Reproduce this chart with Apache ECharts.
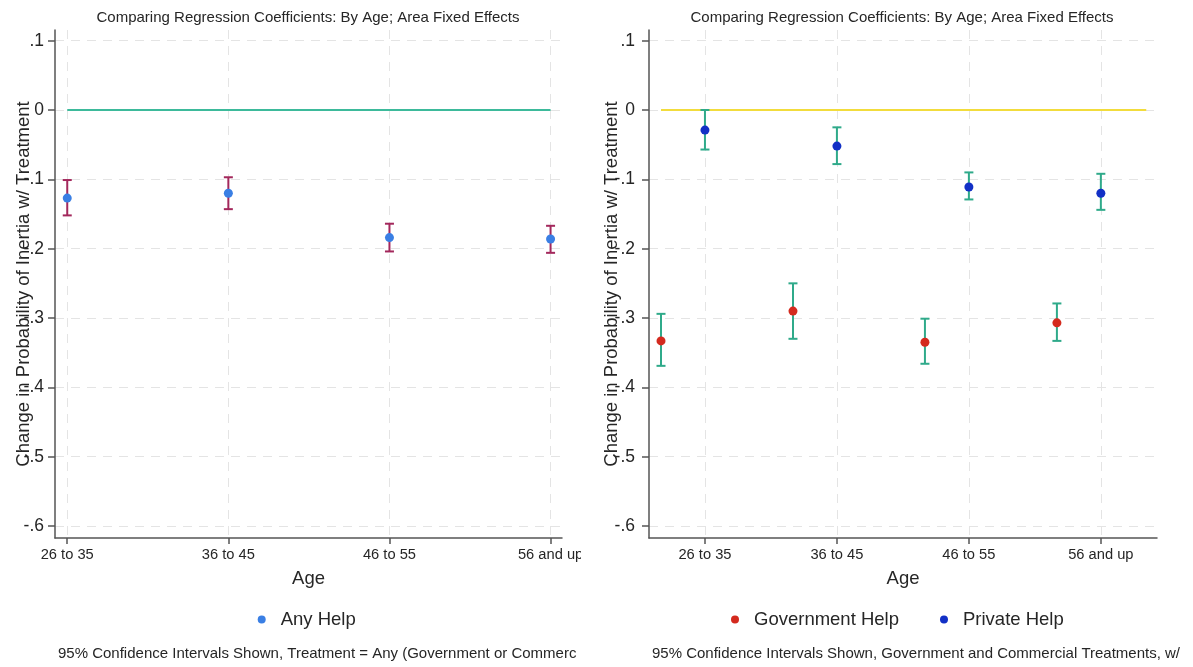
<!DOCTYPE html>
<html>
<head>
<meta charset="utf-8">
<script src="https://cdn.jsdelivr.net/npm/echarts@6/dist/echarts.min.js"></script>
<style>
html,body{margin:0;padding:0;background:#fff;}
#chart{width:1193px;height:667px;}
</style>
</head>
<body>
<div id="chart"></div>
<script>
// ---------- data ----------
const ageCategories = ['26 to 35', '36 to 45', '46 to 55', '56 and up'];
const categoryPositions = [1, 2, 3, 4];
const yTickValues = [-0.6, -0.5, -0.4, -0.3, -0.2, -0.1, 0, 0.1];
const yTickLabels = ['-.6', '-.5', '-.4', '-.3', '-.2', '-.1', '0', '.1'];

// Left panel: Any Help
const anyHelpX = [1, 2, 3, 4];
const anyHelpCoef = [-0.127, -0.120, -0.184, -0.186];
const anyHelpLow = [-0.152, -0.143, -0.204, -0.206];
const anyHelpHigh = [-0.101, -0.097, -0.164, -0.167];
const zeroLineLeftX = [1, 4];

// Right panel: Government Help and Private Help
const govX = [0.667, 1.667, 2.667, 3.667];
const govCoef = [-0.333, -0.290, -0.335, -0.307];
const govLow = [-0.369, -0.330, -0.366, -0.333];
const govHigh = [-0.294, -0.250, -0.301, -0.279];
const privX = [1, 2, 3, 4];
const privCoef = [-0.029, -0.052, -0.111, -0.120];
const privLow = [-0.057, -0.078, -0.129, -0.144];
const privHigh = [0.000, -0.025, -0.090, -0.092];
const zeroLineRightX = [0.667, 4.344];

const titleText = 'Comparing Regression Coefficients: By Age; Area Fixed Effects';
const yAxisTitle = 'Change in Probability of Inertia w/ Treatment';
const noteLeft = '95% Confidence Intervals Shown, Treatment = Any (Government or Commerc';
const noteRight = '95% Confidence Intervals Shown, Government and Commercial Treatments, w/';

// ---------- helpers ----------
const FONT = '"Liberation Sans", Arial, Helvetica, sans-serif';
const TXT = '#262626';

function zip3(x, a, b) { return x.map((v, i) => [v, a[i], b[i]]); }
function zip2(x, a) { return x.map((v, i) => [v, a[i]]); }

function errBarRenderer(color) {
  return function (params, api) {
    const x = api.value(0), lo = api.value(1), hi = api.value(2);
    const pLo = api.coord([x, lo]);
    const pHi = api.coord([x, hi]);
    const w = 4.5;
    const st = { stroke: color, lineWidth: 2 };
    return {
      type: 'group',
      children: [
        { type: 'line', shape: { x1: pLo[0], y1: pLo[1], x2: pHi[0], y2: pHi[1] }, style: st },
        { type: 'line', shape: { x1: pLo[0] - w, y1: pLo[1], x2: pLo[0] + w, y2: pLo[1] }, style: st },
        { type: 'line', shape: { x1: pHi[0] - w, y1: pHi[1], x2: pHi[0] + w, y2: pHi[1] }, style: st }
      ]
    };
  };
}

function yLabel(v) {
  let best = 0, bd = Infinity;
  yTickValues.forEach((t, i) => { const d = Math.abs(t - v); if (d < bd) { bd = d; best = i; } });
  return yTickLabels[best];
}
function xLabel(v) {
  const i = categoryPositions.findIndex(p => Math.abs(p - v) < 1e-6);
  return i >= 0 ? ageCategories[i] : '';
}

const gridLine = { show: true, lineStyle: { color: '#e4e4e4', width: 1, type: [9, 7] } };

function makeX(gridIndex, min, max) {
  return {
    type: 'value', gridIndex, min, max,
    name: 'Age', nameLocation: 'middle', nameGap: 31, nameMoveOverlap: false,
    nameTextStyle: { fontFamily: FONT, fontSize: 18.5, color: TXT },
    axisLine: { show: true, onZero: false, lineStyle: { color: '#555', width: 1.5 } },
    axisTick: { show: true, length: 6, customValues: categoryPositions, lineStyle: { color: '#555', width: 1.5 } },
    axisLabel: { customValues: categoryPositions, formatter: xLabel, margin: 9,
      fontFamily: FONT, fontSize: 14.7, color: TXT, hideOverlap: false, showMinLabel: true, showMaxLabel: true },
    splitLine: gridLine
  };
}
function makeY(gridIndex, margin, nameGap) {
  return {
    type: 'value', gridIndex, min: -0.6173, max: 0.1154,
    name: yAxisTitle, nameLocation: 'middle', nameGap, nameRotate: 90, nameMoveOverlap: false,
    nameTextStyle: { fontFamily: FONT, fontSize: 18.5, color: TXT },
    axisLine: { show: true, onZero: false, lineStyle: { color: '#555', width: 1.5 } },
    axisTick: { show: true, length: 7, customValues: yTickValues, lineStyle: { color: '#555', width: 1.5 } },
    axisLabel: { customValues: yTickValues, formatter: yLabel, margin,
      fontFamily: FONT, fontSize: 17.5, color: TXT },
    splitLine: gridLine
  };
}

const chart = echarts.init(document.getElementById('chart'), null, { renderer: 'canvas' });

const titleStyle = { fontFamily: FONT, fontSize: 15, fontWeight: 'normal', color: TXT };
const option = {
  animation: false,
  backgroundColor: '#ffffff',
  title: [
    { text: titleText, left: 308, top: 10.5, padding: 0, textAlign: 'center', textStyle: titleStyle },
    { text: titleText, left: 902, top: 10.5, padding: 0, textAlign: 'center', textStyle: titleStyle },
    { text: noteLeft, left: 58, top: 646.5, padding: 0, textStyle: titleStyle },
    { text: noteRight, left: 652, top: 646.5, padding: 0, textStyle: titleStyle }
  ],
  legend: [
    { data: ['Any Help'], left: 257.7, top: 610, padding: 0, icon: 'circle', itemWidth: 8, itemHeight: 8,
      textStyle: { fontFamily: FONT, fontSize: 18.5, color: TXT, padding: [0, 0, 0, 10] } },
    { data: ['Government Help', 'Private Help'], left: 731, top: 610, padding: 0, icon: 'circle', itemWidth: 8, itemHeight: 8,
      itemGap: 41,
      textStyle: { fontFamily: FONT, fontSize: 18.5, color: TXT, padding: [0, 0, 0, 10] } }
  ],
  grid: [
    { left: 55, right: 631, top: 30, bottom: 129, containLabel: false },
    { left: 649, right: 36, top: 30, bottom: 129, containLabel: false }
  ],
  xAxis: [makeX(0, 0.924, 4.071), makeX(1, 0.576, 4.4255)],
  yAxis: [makeY(0, 11, 22), makeY(1, 14, 28)],
  series: [
    { name: 'zeroLeft', type: 'line', xAxisIndex: 0, yAxisIndex: 0,
      data: zip2(zeroLineLeftX, [0, 0]), showSymbol: false, silent: true,
      lineStyle: { color: '#3dba9b', width: 2 }, z: 1 },
    { name: 'ciAny', type: 'custom', xAxisIndex: 0, yAxisIndex: 0,
      data: zip3(anyHelpX, anyHelpLow, anyHelpHigh), renderItem: errBarRenderer('#a3285c'),
      encode: { x: 0, y: [1, 2] }, silent: true, z: 2 },
    { name: 'Any Help', type: 'scatter', xAxisIndex: 0, yAxisIndex: 0,
      data: zip2(anyHelpX, anyHelpCoef), symbol: 'circle', symbolSize: 9,
      itemStyle: { color: '#3a7fe4', opacity: 1 }, z: 3 },

    { name: 'zeroRight', type: 'line', xAxisIndex: 1, yAxisIndex: 1,
      data: zip2(zeroLineRightX, [0, 0]), showSymbol: false, silent: true,
      lineStyle: { color: '#f2dc3c', width: 2 }, z: 1 },
    { name: 'ciGov', type: 'custom', xAxisIndex: 1, yAxisIndex: 1,
      data: zip3(govX, govLow, govHigh), renderItem: errBarRenderer('#2faa8a'),
      encode: { x: 0, y: [1, 2] }, silent: true, z: 2 },
    { name: 'ciPriv', type: 'custom', xAxisIndex: 1, yAxisIndex: 1,
      data: zip3(privX, privLow, privHigh), renderItem: errBarRenderer('#2faa8a'),
      encode: { x: 0, y: [1, 2] }, silent: true, z: 2 },
    { name: 'Government Help', type: 'scatter', xAxisIndex: 1, yAxisIndex: 1,
      data: zip2(govX, govCoef), symbol: 'circle', symbolSize: 9,
      itemStyle: { color: '#d42a1e', opacity: 1 }, z: 3 },
    { name: 'Private Help', type: 'scatter', xAxisIndex: 1, yAxisIndex: 1,
      data: zip2(privX, privCoef), symbol: 'circle', symbolSize: 9,
      itemStyle: { color: '#1230c6', opacity: 1 }, z: 3 }
  ],
  graphic: [
    { type: 'rect', left: 581, top: 542, shape: { width: 16, height: 125 },
      style: { fill: '#ffffff' }, z: 100, silent: true }
  ]
};
chart.setOption(option);
</script>
</body>
</html>
